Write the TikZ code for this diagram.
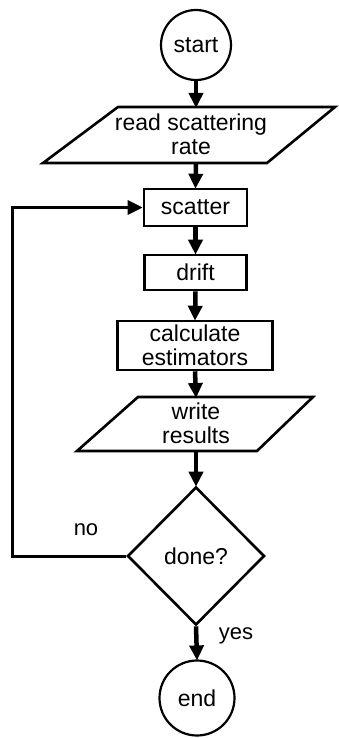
\documentclass[tikz,border=0pt]{standalone}
\usepackage{fontspec}
\setmainfont{Liberation Sans}
\usetikzlibrary{arrows.meta,shapes.geometric}
\begin{document}
\begin{tikzpicture}[x=1pt,y=-1pt,
  every node/.style={font=\fontsize{23}{24}\selectfont, align=center},
  boxline/.style={line width=2.6pt, line join=miter},
  procbox/.style={draw, line width=2.6pt, inner sep=0pt},
  termbox/.style={draw, circle, line width=2.2pt, inner sep=0pt},
  flow/.style={line width=4.5pt, -{Triangle[width=14pt,length=15pt]}, shorten >=-1pt},
  loopline/.style={line width=3pt, line join=miter, -{Triangle[width=14pt,length=15pt]}},
  lbl/.style={font=\fontsize{22}{24}\selectfont}]
\useasboundingbox (0,0) rectangle (338,738);
% start
\node[termbox, minimum size=70pt] (start) at (196,45) {start};
% read scattering rate (parallelogram)
\draw[boxline] (118,107) -- (335,107) -- (267,163) -- (43,163) -- cycle;
\node (read) at (191,134) {read scattering\\rate};
\coordinate (readT) at (196,107);
\coordinate (readB) at (196,163);
% scatter
\node[procbox, minimum width=103pt, minimum height=37pt] (scatter) at (195.5,207.5) {scatter};
% drift
\node[procbox, minimum width=102pt, minimum height=35pt] (drift) at (195.5,272.5) {drift};
% calculate estimators
\node[procbox, minimum width=155pt, minimum height=49pt] (calc) at (195,345.5) {calculate\\estimators};
% write results (parallelogram)
\draw[boxline] (138,397) -- (313,397) -- (257,451) -- (77,451) -- cycle;
\node (write) at (196,423) {write\\results};
\coordinate (writeT) at (196,397);
\coordinate (writeB) at (196,451);
% done?
\node[draw, diamond, line width=2.6pt, inner sep=0pt, minimum width=137pt, minimum height=138pt] (done) at (196,556) {done?};
% end
\node[termbox, minimum size=75pt] (end) at (197,698) {end};
% connectors
\draw[flow] (start.south) -- (readT);
\draw[flow] (readB) -- (scatter.north);
\draw[flow] (scatter.south) -- (drift.north);
\draw[flow] (drift.south) -- (calc.north);
\draw[flow] (calc.south) -- (writeT);
\draw[flow] (writeB) -- (done.north);
\draw[flow] (done.south) -- (end.north);
\coordinate (c1) at (12,556);
\coordinate (c2) at (12,207.5);
\draw[loopline] (done.west) -- (c1) -- (c2) -- (scatter.west);
% labels
\node[lbl] (no) at (86,530) {no};
\node[lbl] (yes) at (236,636) {yes};
\end{tikzpicture}
\end{document}
